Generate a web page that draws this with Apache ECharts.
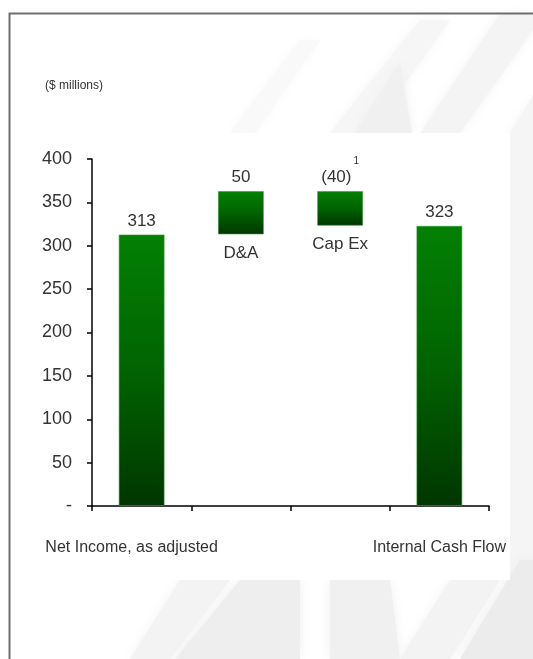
<!DOCTYPE html>
<html>
<head>
<meta charset="utf-8">
<script src="https://cdn.jsdelivr.net/npm/echarts@6/dist/echarts.min.js"></script>
<style>
  html, body { margin: 0; padding: 0; background: #ffffff; }
  #chart { width: 533px; height: 659px; }
</style>
</head>
<body>
<div id="chart"></div>
<script>
// Cash flow bridge, $ millions
const categories = ['Net Income, as adjusted', 'D&A', 'Cap Ex', 'Internal Cash Flow'];
const axisNames = ['{left|Net Income, as adjusted}', '', '', 'Internal Cash Flow'];
const stepNames = ['', 'D&A', 'Cap Ex', ''];
const barValues = [313, 50, 40, 323];
const barBases = [0, 313, 323, 0];
const valueLabels = ['313', '50', '{v|(40)}{sup|1}', '323'];
const yTicks = [0, 50, 100, 150, 200, 250, 300, 350, 400];

const FONT = '"Liberation Sans", Arial, sans-serif';
const TXT = '#333333';

const greenFill = new echarts.graphic.LinearGradient(0, 0, 0, 1, [
  { offset: 0, color: '#038003' },
  { offset: 0.5, color: '#016301' },
  { offset: 1, color: '#003600' }
]);

const chart = echarts.init(document.getElementById('chart'), null, { renderer: 'canvas' });

// faint architectural backdrop behind the white chart panel
const shade = (points, fill) => ({
  type: 'polygon', silent: true, z: -10,
  shape: { points: points },
  style: { fill: fill, shadowBlur: 12, shadowColor: fill }
});

chart.setOption({
  backgroundColor: '#ffffff',
  animation: false,
  graphic: [
    shade([[330, 133], [420, 20], [450, 20], [370, 133]], '#f6f6f6'),
    shade([[355, 133], [400, 62], [412, 133]], '#f0f0f0'),
    shade([[420, 133], [500, 14], [533, 14], [533, 30], [460, 133]], '#f4f4f4'),
    shade([[230, 133], [300, 40], [320, 40], [255, 133]], '#f9f9f9'),
    shade([[510, 133], [533, 95], [533, 600], [510, 600]], '#f5f5f5'),
    shade([[130, 659], [180, 580], [230, 580], [170, 659]], '#f3f3f3'),
    shade([[175, 659], [240, 580], [300, 580], [300, 659]], '#eeeeee'),
    shade([[330, 659], [330, 580], [390, 580], [400, 659]], '#f0f0f0'),
    shade([[400, 659], [450, 580], [500, 580], [450, 659]], '#f3f3f3'),
    shade([[460, 659], [520, 560], [533, 560], [533, 659]], '#ececec'),
    {
      type: 'rect', silent: true, z: -5,
      shape: { x: 28, y: 133, width: 482, height: 447 },
      style: { fill: '#ffffff' }
    },
    {
      type: 'rect', silent: true, z: 50,
      shape: { x: 9.5, y: 13.5, width: 600, height: 700 },
      style: { fill: null, stroke: '#6e6e6e', lineWidth: 2 }
    },
    {
      type: 'text', left: 45, top: 80, z: 20,
      style: { text: '($ millions)', font: '12px ' + FONT, fill: TXT }
    }
  ],
  grid: { left: 92, right: 44, top: 159, bottom: 153, containLabel: false },
  xAxis: {
    type: 'category',
    data: categories,
    axisLine: { lineStyle: { color: '#000000', width: 1.5 } },
    axisTick: { show: true, length: 5, alignWithLabel: false, lineStyle: { color: '#000000', width: 1.5 } },
    axisLabel: {
      margin: 34, color: TXT, fontFamily: FONT, fontSize: 16, interval: 0,
      formatter: (v, i) => axisNames[i],
      rich: {
        left: { color: TXT, fontFamily: FONT, fontSize: 16, padding: [0, 20, 0, 0] }
      }
    }
  },
  yAxis: {
    type: 'value',
    min: 0, max: 400, interval: 50,
    splitLine: { show: false },
    axisLine: { show: true, lineStyle: { color: '#000000', width: 1.5 } },
    axisTick: { show: true, length: 5, lineStyle: { color: '#000000', width: 1.5 } },
    axisLabel: {
      margin: 20, color: TXT, fontFamily: FONT, fontSize: 18,
      formatter: v => (v === 0 ? '-' : (yTicks.includes(v) ? String(v) : ''))
    }
  },
  series: [
    {
      name: 'base',
      type: 'bar',
      stack: 'bridge',
      barWidth: 46,
      data: barBases,
      itemStyle: { color: 'rgba(0,0,0,0)' },
      label: {
        show: true, position: 'insideTop', distance: 10,
        color: TXT, fontFamily: FONT, fontSize: 17,
        formatter: p => stepNames[p.dataIndex]
      },
      silent: true
    },
    {
      name: 'value',
      type: 'bar',
      stack: 'bridge',
      barWidth: 46,
      data: barValues,
      itemStyle: { color: greenFill, borderColor: 'rgba(60,150,60,0.6)', borderWidth: 1 },
      label: {
        show: true, position: 'top', distance: 5,
        color: TXT, fontFamily: FONT, fontSize: 17,
        formatter: p => valueLabels[p.dataIndex],
        rich: {
          v: { fontSize: 17, fontFamily: FONT, color: TXT, lineHeight: 18, verticalAlign: 'bottom' },
          sup: { fontSize: 10, fontFamily: FONT, color: TXT, lineHeight: 30, verticalAlign: 'top', padding: [0, 0, 0, 2] }
        }
      }
    }
  ]
});
</script>
</body>
</html>
